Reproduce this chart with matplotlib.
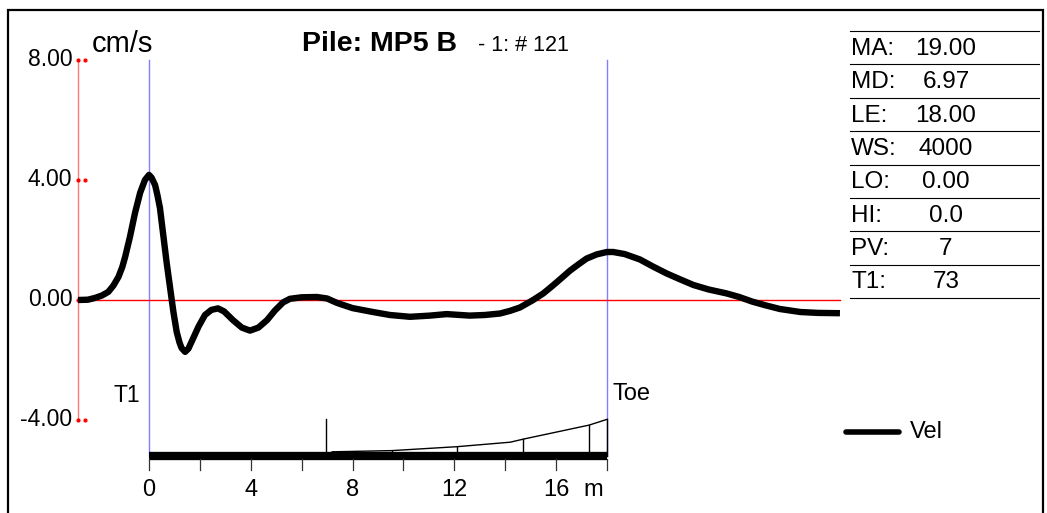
import matplotlib
matplotlib.use("Agg")
import matplotlib.pyplot as plt
from matplotlib.patches import Rectangle

plt.rcParams["font.family"] = ["Liberation Sans", "DejaVu Sans"]

# velocity trace (x in m along pile, y in cm/s)
vel_x = [-2.79, -2.4, -2.12, -1.85, -1.6, -1.4, -1.2, -1.05, -0.94, -0.75, -0.55, -0.35, -0.16,
         0.0, 0.1, 0.24, 0.33, 0.43, 0.56, 0.69, 0.83, 0.96, 1.09, 1.2, 1.28, 1.42, 1.55, 1.74,
         1.95, 2.2, 2.45, 2.71, 2.95, 3.3, 3.65, 3.97, 4.3, 4.64, 4.95, 5.27, 5.54, 6.0, 6.6,
         7.0, 7.4, 8.0, 8.8, 9.47, 10.26, 11.05, 11.7, 12.6, 13.2, 13.8, 14.2, 14.58, 15.1,
         15.5, 15.9, 16.2, 16.55, 16.9, 17.2, 17.6, 18.0, 18.25, 18.7, 19.3, 19.8, 20.36, 20.9,
         21.4, 22.0, 22.7, 23.2, 23.7, 24.2, 24.8, 25.6, 26.3, 27.16]
vel_y = [0.0, 0.01, 0.07, 0.15, 0.27, 0.48, 0.77, 1.1, 1.43, 2.1, 2.9, 3.57, 4.0,
         4.17, 4.08, 3.83, 3.5, 3.07, 2.17, 1.27, 0.4, -0.4, -1.07, -1.42, -1.6, -1.73, -1.62,
         -1.27, -0.88, -0.5, -0.33, -0.28, -0.38, -0.67, -0.92, -1.02, -0.92, -0.67, -0.35,
         -0.08, 0.04, 0.09, 0.1, 0.05, -0.1, -0.27, -0.4, -0.5, -0.56, -0.52, -0.47, -0.52,
         -0.5, -0.45, -0.36, -0.25, 0.0, 0.22, 0.5, 0.72, 0.98, 1.2, 1.38, 1.52, 1.6, 1.6,
         1.53, 1.35, 1.12, 0.88, 0.68, 0.5, 0.35, 0.22, 0.1, -0.05, -0.17, -0.3, -0.4, -0.43,
         -0.44]

# y axis
y_ticks = [8.0, 4.0, 0.0, -4.0]
y_tick_labels = ["8.00", "4.00", "0.00", "-4.00"]

# pile scale
pile_length = 18.0
x_major = [0, 4, 8, 12, 16]
x_minor = [0, 2, 4, 6, 8, 10, 12, 14, 16, 18]

# impedance profile drawn above the pile bar
prof_x = [7.2, 9.55, 12.1, 14.2, 14.7, 17.3, 18.0]
prof_y = [-5.06, -5.02, -4.89, -4.74, -4.64, -4.17, -3.98]
prof_marks = [9.55, 12.1, 14.7, 17.3, 18.0]
md_pos = 6.97

# parameter table
param_names = ["MA:", "MD:", "LE:", "WS:", "LO:", "HI:", "PV:", "T1:"]
param_values = ["19.00", "6.97", "18.00", "4000", "0.00", "0.0", "7", "73"]

W, H = 1047, 513
fig = plt.figure(figsize=(W / 100, H / 100), dpi=100)
ax = fig.add_axes([0, 0, 1, 1])
ppm = 25.44     # pixels per metre
ppu = 30.0      # pixels per cm/s
x0, y0 = 149, 300
ax.set_xlim(-x0 / ppm, (W - x0) / ppm)
ax.set_ylim((y0 - H) / ppu, y0 / ppu)
ax.axis("off")

def fx(px):
    return px / W

def fy(py):
    return 1 - py / H

# outer frame
ax.add_patch(Rectangle((fx(8), -0.1), fx(1043) - fx(8), fy(10) + 0.1,
                       transform=ax.transAxes, fill=False, lw=1.6, color="black"))

x_left = -2.79
x_right = 27.16
bar_y = -5.2

# axis lines
ax.plot([x_left, x_left], [y_ticks[0], y_ticks[-1]], color="#ff7878", lw=1.0)
ax.plot([x_left, x_right], [0, 0], color="red", lw=1.0, zorder=2)
for t, lab in zip(y_ticks, y_tick_labels):
    ax.plot([x_left, x_left + 0.27], [t, t], ls="none", marker="o", ms=2.0, color="red")
    ax.text(x_left - 0.22, t, lab, ha="right", va="center", fontsize=16.5)
ax.text(-2.25, 8.55, "cm/s", ha="left", va="center", fontsize=21)

# T1 / toe markers
for xm in [0, pile_length]:
    ax.plot([xm, xm], [y_ticks[0], bar_y], color="#7f7fff", lw=1.0, zorder=1)
ax.text(-0.35, -3.2, "T1", ha="right", va="center", fontsize=16.5)
ax.text(18.2, -3.15, "Toe", ha="left", va="center", fontsize=17)

# velocity trace
ax.plot(vel_x, vel_y, color="black", lw=4.6, solid_joinstyle="round",
        solid_capstyle="butt", zorder=3)

# pile bar and scale
ax.plot([0, pile_length], [bar_y, bar_y], color="black", lw=6.0, solid_capstyle="butt")
for xm in x_minor:
    ax.plot([xm, xm], [bar_y - 0.1, bar_y - 0.45], color="#333333", lw=0.9)
for xm in x_major:
    ax.text(xm, -6.33, str(xm), ha="center", va="center", fontsize=17)
ax.text(17.47, -6.33, "m", ha="center", va="center", fontsize=17)

# impedance profile
ax.plot(prof_x, prof_y, color="black", lw=1.0)
ax.plot([md_pos, md_pos], [bar_y, prof_y[-1]], color="black", lw=1.0)
for xm, ym in zip(prof_x, prof_y):
    if xm in prof_marks:
        ax.plot([xm, xm], [bar_y, ym], color="black", lw=1.0)

# title
ax.text(fx(302), fy(51), "Pile: MP5 B", transform=ax.transAxes, ha="left",
        va="baseline", fontsize=20.5, fontweight="bold")
ax.text(fx(478), fy(51), "- 1: # 121", transform=ax.transAxes, ha="left",
        va="baseline", fontsize=15.5)

# parameter table
row_h = 33.4
for i, (name, val) in enumerate(zip(param_names, param_values)):
    top = 31 + i * row_h
    ax.plot([fx(850), fx(1039)], [fy(top), fy(top)], transform=ax.transAxes,
            color="black", lw=0.8)
    ax.text(fx(851), fy(top + row_h / 2 + 1), name, transform=ax.transAxes,
            ha="left", va="center", fontsize=17.5)
    ax.text(fx(946), fy(top + row_h / 2 + 1), val, transform=ax.transAxes,
            ha="center", va="center", fontsize=17.5)
last = 31 + len(param_names) * row_h
ax.plot([fx(850), fx(1039)], [fy(last), fy(last)], transform=ax.transAxes,
        color="black", lw=0.8)

# legend
ax.plot([fx(846), fx(899)], [fy(432), fy(432)], transform=ax.transAxes,
        color="black", lw=4.0, solid_capstyle="round")
ax.text(fx(910), fy(432), "Vel", transform=ax.transAxes, ha="left",
        va="center", fontsize=17)

fig.savefig("out.png", dpi=100)
